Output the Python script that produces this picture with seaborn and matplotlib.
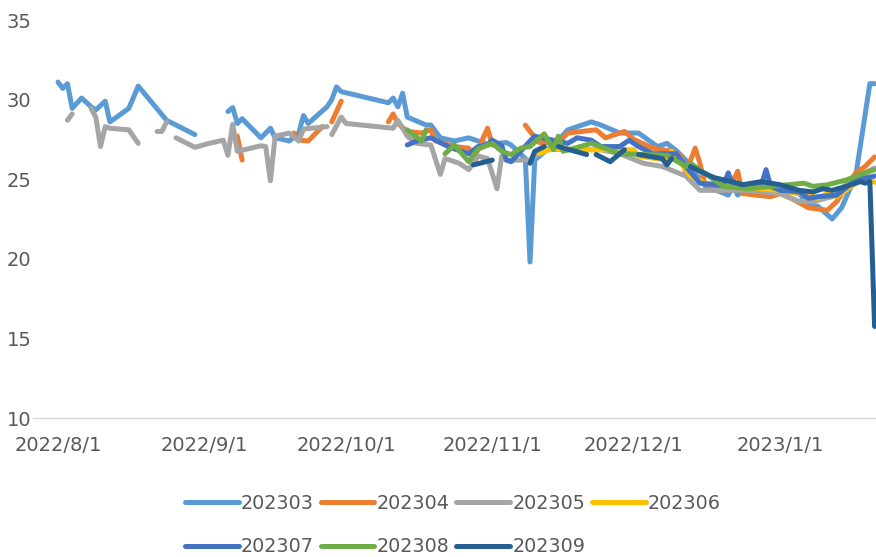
"""Daily price curves for contracts 202303-202309, Aug 2022 - Jan 2023."""
import matplotlib
matplotlib.use("Agg")
import matplotlib.pyplot as plt
from matplotlib.lines import Line2D
import numpy as np
import pandas as pd
import seaborn as sns

# None in a dates/values list marks a break in the line
d303 = ["8/1", "8/2", "8/3", "8/4", "8/6", "8/8", "8/9", "8/11", "8/12", "8/16", "8/18",
        "8/24", "8/26", "8/30", None,
        "9/6", "9/7", "9/8", "9/9", "9/13", "9/15", "9/16", "9/19", "9/21", "9/22", "9/23",
        "9/27", "9/28", "9/29", "9/30", "10/10", "10/11", "10/12", "10/13", "10/14", "10/18",
        "10/19", "10/21", "10/24", "10/27", "10/31", "11/4", "11/5", "11/8", "11/9", "11/10",
        "11/15", "11/17", "11/22", "11/24", "11/28", "12/2", "12/6", "12/8", "12/10", "12/12",
        "12/13", "12/15", "12/16", "12/21", "12/22", "12/23", "12/25", "12/27", "1/1", "1/5",
        "1/7", "1/9", "1/12", "1/14", "1/17", "1/20", "1/21"]
v303 = [31.1, 30.7, 31.0, 29.45, 30.1, 29.55, 29.35, 29.9, 28.6, 29.45, 30.85,
        28.7, 28.4, 27.8, None,
        29.25, 29.5, 28.5, 28.8, 27.6, 28.2, 27.6, 27.4, 27.9, 29.0, 28.5,
        29.55, 30.0, 30.8, 30.5, 29.8, 30.1, 29.55, 30.4, 28.9, 28.4,
        28.4, 27.6, 27.4, 27.6, 27.2, 27.3, 27.15, 26.3, 19.8, 26.2,
        27.45, 28.1, 28.6, 28.4, 27.9, 27.9, 27.05, 27.25, 26.8, 26.2,
        25.7, 25.0, 24.6, 24.0, 24.6, 24.0, 24.5, 24.4, 24.3, 24.1,
        23.4, 23.3, 22.5, 23.2, 25.2, 31.0, 31.0]

d304 = ["9/8", "9/9", None, "9/20", "9/21", "9/23", "9/26", None, "9/28", "9/30", None,
        "10/10", "10/11", "10/12", "10/14", "10/17", "10/19", "10/20", "10/24", "10/27",
        "10/28", "10/31", "11/1", "11/3", None,
        "11/8", "11/9", "11/11", "11/15", "11/17", "11/23", "11/25", "11/29", "12/1", "12/5",
        "12/9", "12/11", "12/12", "12/14", "12/15", "12/16", "12/21", "12/23", "12/24",
        "12/27", "12/30", "1/1", "1/4", "1/7", "1/11", "1/13", "1/17", "1/19", "1/21"]
v304 = [27.7, 26.2, None, 27.9, 27.45, 27.4, 28.3, None, 28.6, 29.9, None,
        28.6, 29.1, 28.5, 28.0, 27.9, 28.1, 27.4, 27.05, 26.95,
        26.2, 28.2, 27.15, 27.05, None,
        28.4, 28.0, 27.3, 27.3, 27.9, 28.1, 27.6, 28.0, 27.5, 26.95,
        26.75, 26.45, 25.4, 26.95, 26.0, 24.75, 24.3, 25.5, 24.1,
        24.0, 23.9, 24.1, 23.7, 23.2, 23.05, 23.6, 25.4, 25.8, 26.4]

d305 = ["8/3", "8/4", None, "8/8", "8/9", "8/10", "8/11", "8/12", "8/16", "8/18", None,
        "8/22", "8/23", "8/24", None,
        "8/26", "8/30", "9/2", "9/5", "9/6", "9/7", "9/8", "9/13", "9/14", "9/15", "9/16",
        "9/19", "9/21", "9/22", "9/27", None,
        "9/28", "9/30", "10/1", "10/11", "10/12", "10/14", "10/16", "10/19", "10/21",
        "10/22", "10/25", "10/27", "10/29", "10/31", "11/2", "11/3", "11/4", "11/9",
        "11/12", "11/17", "11/24", "11/28", "12/3", "12/7", "12/12", "12/15", "12/25",
        "1/1", "1/5", "1/8", "1/12", "1/16", "1/19", "1/21"]
v305 = [28.7, 29.1, None, 29.45, 28.9, 27.05, 28.3, 28.2, 28.1, 27.25, None,
        28.0, 28.0, 28.6, None,
        27.6, 27.0, 27.25, 27.45, 26.5, 28.45, 26.75, 27.1, 27.05, 24.9, 27.7,
        27.9, 27.4, 28.15, 28.3, None,
        27.8, 28.9, 28.5, 28.2, 28.7, 27.7, 27.25, 27.15, 25.3,
        26.3, 26.0, 25.6, 26.45, 26.3, 24.4, 26.45, 26.2, 26.2,
        26.9, 26.85, 26.85, 26.6, 26.0, 25.8, 25.2, 24.3, 24.3,
        24.1, 23.6, 23.6, 23.9, 24.95, 25.4, 25.7]

d306 = ["11/11", "11/13", "11/16", "11/22", "12/1", "12/2", "12/8", "12/9", "12/11",
        "12/13", "12/16", "12/21", "12/28", "1/1", "1/7", "1/9", "1/11", "1/13", "1/17",
        "1/19", "1/21"]
v306 = [26.6, 26.85, 26.9, 26.85, 26.85, 26.45, 26.2, 26.75, 26.0,
        25.2, 24.75, 24.65, 24.4, 24.3, 24.0, 23.8, 24.1, 23.9, 24.75,
        25.2, 24.8]

d307 = ["10/14", "10/16", "10/19", "10/23", "10/27", "10/29", "10/31", "11/1", "11/3",
        "11/4", "11/5", "11/9", "11/10", "11/17", "11/19", "11/22", "11/24", "11/28",
        "11/30", "12/2", "12/5", "12/10", "12/12", "12/15", "12/20", "12/21", "12/22",
        "12/28", "12/29", "12/30", "1/1", "1/5", "1/7", "1/9", "1/13", "1/17", "1/21"]
v307 = [27.15, 27.4, 27.6, 27.0, 26.6, 27.05, 27.15, 27.45, 27.1,
        26.2, 26.1, 27.4, 27.7, 27.25, 27.6, 27.45, 27.05, 27.05,
        27.45, 27.05, 26.6, 26.6, 25.8, 24.75, 24.6, 25.4, 24.55,
        24.6, 25.6, 24.55, 24.3, 24.2, 23.8, 23.9, 24.0, 24.95, 25.2]

d308 = ["10/14", "10/17", "10/18", None,
        "10/22", "10/24", "10/27", "10/29", "11/1", "11/3", "11/5", "11/7", "11/9",
        "11/12", "11/14", "11/15", "11/16", "11/22", "11/28", "12/8", "12/12", "12/13",
        "12/20", "12/25", "1/6", "1/8", "1/11", "1/15", "1/19", "1/21"]
v308 = [28.1, 27.4, 28.1, None,
        26.6, 27.15, 26.1, 26.9, 27.25, 26.75, 26.55, 26.95, 27.05,
        27.85, 26.85, 27.7, 26.75, 27.25, 26.6, 26.5, 25.8, 26.0,
        24.55, 24.4, 24.75, 24.55, 24.65, 24.95, 25.4, 25.6]

d309 = ["10/28", "11/1", None, "11/9", "11/10", "11/12", None, "11/15", "11/21", None,
        "11/23", "11/26", "11/29", None, "12/2", "12/7", "12/8", "12/9", None,
        "12/13", "12/15", "12/18", "12/23", "12/24", "12/28", "1/1", "1/5", "1/8", "1/10",
        "1/12", "1/15", "1/18", "1/19", "1/20", "1/21"]
v309 = [25.9, 26.2, None, 26.0, 26.75, 27.05, None, 27.05, 26.55, None,
        26.55, 26.1, 26.85, None, 26.55, 26.3, 25.9, 26.3, None,
        25.8, 25.5, 25.1, 24.75, 24.65, 24.85, 24.65, 24.3, 24.2, 24.4,
        24.3, 24.55, 24.85, 24.75, 24.85, 15.75]

series = ["202303", "202304", "202305", "202306", "202307", "202308", "202309"]
series_dates = [d303, d304, d305, d306, d307, d308, d309]
series_vals = [v303, v304, v305, v306, v307, v308, v309]
colors = ["#5B9BD5", "#ED7D31", "#A5A5A5", "#FFC000", "#4472C4", "#70AD47", "#255E91"]

tick_dates = ["2022-08-01", "2022-09-01", "2022-10-01", "2022-11-01", "2022-12-01", "2023-01-01"]
tick_labels = ["2022/8/1", "2022/9/1", "2022/10/1", "2022/11/1", "2022/12/1", "2023/1/1"]
y_ticks = [10, 15, 20, 25, 30, 35]


def to_date(s):
    m, d = (int(p) for p in s.split("/"))
    return pd.Timestamp(year=2022 if m >= 7 else 2023, month=m, day=d)


rows = []
seg = 0
for name, dates, vals in zip(series, series_dates, series_vals):
    for d, v in zip(dates, vals):
        if d is None:
            seg += 1
            continue
        rows.append({"date": to_date(d), "price": v, "contract": name, "seg": seg})
    seg += 1
df = pd.DataFrame(rows)

sns.set_style("white")
plt.rcParams["font.family"] = ["DejaVu Sans"]
text_color = "#595959"
lw = 3.6

fig = plt.figure(figsize=(8.76, 5.57), dpi=100)
ax = fig.add_axes([33 / 876, 1 - 418 / 557, 843 / 876, 398 / 557])

palette = dict(zip(series, colors))
sns.lineplot(
    data=df, x="date", y="price", hue="contract", units="seg", estimator=None,
    hue_order=series, palette=palette, sort=False, legend=False, ax=ax,
    linewidth=lw, solid_capstyle="round", solid_joinstyle="round",
)

x0 = pd.Timestamp("2022-08-01")
ax.set_xlim(x0 - pd.Timedelta(days=5.3), x0 + pd.Timedelta(days=173.3))
ax.set_ylim(10, 35)
ax.set_xticks(pd.to_datetime(tick_dates))
ax.set_xticklabels(tick_labels)
ax.set_yticks(y_ticks)
ax.set_xlabel("")
ax.set_ylabel("")
ax.tick_params(axis="both", length=0, labelsize=14, labelcolor=text_color)
ax.tick_params(axis="x", pad=13)
ax.tick_params(axis="y", pad=1)
for side in ["top", "right", "left"]:
    ax.spines[side].set_visible(False)
ax.spines["bottom"].set_color("#D9D9D9")
ax.spines["bottom"].set_linewidth(1.0)
ax.grid(False)

# legend filled row-wise: reorder for matplotlib's column-major layout
handles = [Line2D([0], [0], color=c, lw=lw, solid_capstyle="round") for c in colors]
order = [0, 4, 1, 5, 2, 6, 3]
leg = fig.legend(
    [handles[i] for i in order], [series[i] for i in order],
    loc="center", bbox_to_anchor=(453 / 876, 1 - 525 / 557), ncol=4, frameon=False,
    fontsize=13.8, handlelength=2.8, handletextpad=0.12, columnspacing=0.35,
    labelspacing=1.3, borderpad=0, borderaxespad=0,
)
for t in leg.get_texts():
    t.set_color(text_color)

fig.savefig("out.png", dpi=100)
